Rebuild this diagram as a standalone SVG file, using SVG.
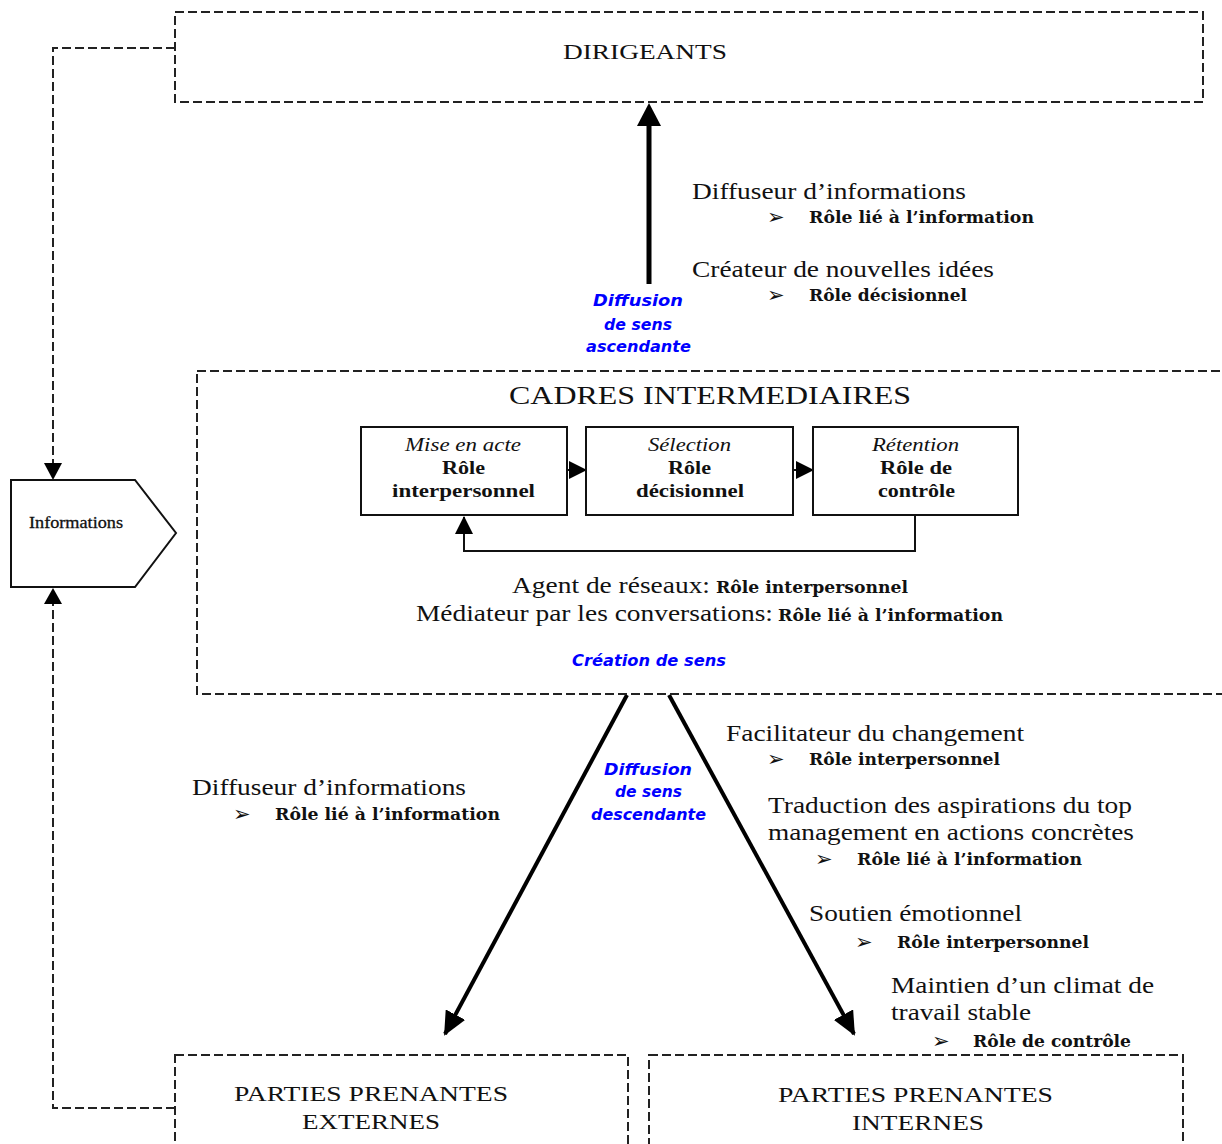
<svg xmlns="http://www.w3.org/2000/svg" width="1222" height="1144" viewBox="0 0 1222 1144">
  <defs>
    <style>
      .dash { fill: none; stroke: #222; stroke-width: 2; stroke-dasharray: 9 4; }
      .solid { fill: #fff; stroke: #111; stroke-width: 2; }
      .serif { font-family: "Liberation Serif", "Times New Roman", serif; fill: #111; }
      .big { font-size: 23px; }
      .cap { font-size: 22px; }
      .role { font-family: "DejaVu Serif", "Liberation Serif", serif; font-weight: bold; font-size: 16px; fill: #111; }
      .box { font-family: "Liberation Serif", serif; font-size: 19px; fill: #111; }
      .boxb { font-weight: bold; }
      .boxi { font-style: italic; }
      .blue { font-family: "DejaVu Sans", Verdana, sans-serif; font-weight: bold; font-style: italic; font-size: 15px; fill: #0000ff; }
      .bul { font-family: "DejaVu Sans", sans-serif; font-size: 21px; fill: #111; }
      .thick { stroke: #000; stroke-width: 5; fill: none; }
      .med { stroke: #000; stroke-width: 4; fill: none; }
      .thin { stroke: #111; stroke-width: 2; fill: none; }
    </style>
    <marker id="headBig" viewBox="0 0 24 22" refX="22" refY="11" markerWidth="24" markerHeight="22" markerUnits="userSpaceOnUse" orient="auto">
      <path d="M0,0 L24,11 L0,22 Z" fill="#000"/>
    </marker>
    <marker id="headSmall" viewBox="0 0 18 18" refX="17" refY="9" markerWidth="18" markerHeight="18" markerUnits="userSpaceOnUse" orient="auto">
      <path d="M0,0 L18,9 L0,18 Z" fill="#000"/>
    </marker>
  </defs>

  <rect width="1222" height="1144" fill="#fff"/>

  <!-- connectors -->
  <g id="connectors">
    <!-- dashed feedback loop around the Informations shape -->
    <polyline class="dash" points="175,48 53,48 53,464"/>
    <path d="M44,463 L62,463 L53,480 Z" fill="#000"/>
    <polyline class="dash" points="175,1108 53,1108 53,604"/>
    <path d="M44,604 L62,604 L53,588 Z" fill="#000"/>

    <!-- upward diffusion -->
    <line class="thick" x1="649" y1="284" x2="649" y2="120"/>
    <path d="M637,126 L661,126 L649,103 Z" fill="#000"/>

    <!-- downward diffusion -->
    <line class="med" x1="627" y1="695" x2="445" y2="1034" marker-end="url(#headBig)"/>
    <line class="med" x1="669" y1="695" x2="854" y2="1034" marker-end="url(#headBig)"/>

    <!-- links between the three inner roles -->
    <line class="thin" x1="567" y1="470" x2="586" y2="470" marker-end="url(#headSmall)"/>
    <line class="thin" x1="793" y1="470" x2="813" y2="470" marker-end="url(#headSmall)"/>
    <polyline class="thin" points="915,515 915,551 464,551 464,517" marker-end="url(#headSmall)"/>
  </g>

  <!-- top management -->
  <g id="dirigeants">
    <rect class="dash" x="175" y="12" width="1028" height="90"/>
    <text class="serif cap" x="563" y="59" textLength="164" lengthAdjust="spacingAndGlyphs">DIRIGEANTS</text>
  </g>

  <!-- information source -->
  <g id="informations">
    <polygon class="solid" points="11,480 135,480 176,533 135,587 11,587" stroke-width="1.6"/>
    <text class="serif" x="29" y="528" font-size="16" stroke="#111" stroke-width="0.3" textLength="94" lengthAdjust="spacingAndGlyphs">Informations</text>
  </g>

  <!-- roles in upward diffusion -->
  <g id="roles-ascendants">
    <text class="serif big" x="692" y="199" textLength="274" lengthAdjust="spacingAndGlyphs">Diffuseur d’informations</text>
    <text class="bul" x="767" y="224">➢</text>
    <text class="role" x="809" y="223" textLength="225" lengthAdjust="spacingAndGlyphs">Rôle lié à l’information</text>
    <text class="serif big" x="692" y="277" textLength="302" lengthAdjust="spacingAndGlyphs">Créateur de nouvelles idées</text>
    <text class="bul" x="767" y="302">➢</text>
    <text class="role" x="809" y="301" textLength="158" lengthAdjust="spacingAndGlyphs">Rôle décisionnel</text>
  </g>

  <g id="label-ascendante">
    <text class="blue" x="593" y="306" textLength="90" lengthAdjust="spacingAndGlyphs">Diffusion</text>
    <text class="blue" x="604" y="330" textLength="68" lengthAdjust="spacingAndGlyphs">de sens</text>
    <text class="blue" x="586" y="352" textLength="105" lengthAdjust="spacingAndGlyphs">ascendante</text>
  </g>

  <!-- middle management -->
  <g id="cadres">
    <rect class="dash" x="197" y="371" width="1100" height="323"/>
    <text class="serif" x="509" y="404" font-size="26" textLength="402" lengthAdjust="spacingAndGlyphs">CADRES INTERMEDIAIRES</text>

    <text class="serif big" x="512" y="593" textLength="198" lengthAdjust="spacingAndGlyphs">Agent de réseaux:</text>
    <text class="role" x="716" y="593" textLength="192" lengthAdjust="spacingAndGlyphs">Rôle interpersonnel</text>
    <text class="serif big" x="416" y="621" textLength="357" lengthAdjust="spacingAndGlyphs">Médiateur par les conversations:</text>
    <text class="role" x="778" y="621" textLength="225" lengthAdjust="spacingAndGlyphs">Rôle lié à l’information</text>

    <text class="blue" x="572" y="666" textLength="154" lengthAdjust="spacingAndGlyphs">Création de sens</text>
  </g>

  <g id="mise-en-acte">
    <rect class="solid" x="361" y="427" width="206" height="88"/>
    <text class="box boxi" x="405" y="451" textLength="116" lengthAdjust="spacingAndGlyphs">Mise en acte</text>
    <text class="box boxb" x="442" y="474" textLength="43" lengthAdjust="spacingAndGlyphs">Rôle</text>
    <text class="box boxb" x="392" y="497" textLength="143" lengthAdjust="spacingAndGlyphs">interpersonnel</text>
  </g>

  <g id="selection">
    <rect class="solid" x="586" y="427" width="207" height="88"/>
    <text class="box boxi" x="648" y="451" textLength="83" lengthAdjust="spacingAndGlyphs">Sélection</text>
    <text class="box boxb" x="668" y="474" textLength="43" lengthAdjust="spacingAndGlyphs">Rôle</text>
    <text class="box boxb" x="636" y="497" textLength="108" lengthAdjust="spacingAndGlyphs">décisionnel</text>
  </g>

  <g id="retention">
    <rect class="solid" x="813" y="427" width="205" height="88"/>
    <text class="box boxi" x="872" y="451" textLength="87" lengthAdjust="spacingAndGlyphs">Rétention</text>
    <text class="box boxb" x="880" y="474" textLength="72" lengthAdjust="spacingAndGlyphs">Rôle de</text>
    <text class="box boxb" x="878" y="497" textLength="77" lengthAdjust="spacingAndGlyphs">contrôle</text>
  </g>

  <!-- roles in downward diffusion -->
  <g id="roles-externes">
    <text class="serif big" x="192" y="795" textLength="274" lengthAdjust="spacingAndGlyphs">Diffuseur d’informations</text>
    <text class="bul" x="233" y="821">➢</text>
    <text class="role" x="275" y="820" textLength="225" lengthAdjust="spacingAndGlyphs">Rôle lié à l’information</text>
  </g>

  <g id="label-descendante">
    <text class="blue" x="604" y="775" textLength="88" lengthAdjust="spacingAndGlyphs">Diffusion</text>
    <text class="blue" x="615" y="797" textLength="67" lengthAdjust="spacingAndGlyphs">de sens</text>
    <text class="blue" x="591" y="820" textLength="115" lengthAdjust="spacingAndGlyphs">descendante</text>
  </g>

  <g id="roles-internes">
    <text class="serif big" x="726" y="741" textLength="298" lengthAdjust="spacingAndGlyphs">Facilitateur du changement</text>
    <text class="bul" x="767" y="766">➢</text>
    <text class="role" x="809" y="765" textLength="191" lengthAdjust="spacingAndGlyphs">Rôle interpersonnel</text>

    <text class="serif big" x="768" y="813" textLength="364" lengthAdjust="spacingAndGlyphs">Traduction des aspirations du top</text>
    <text class="serif big" x="768" y="840" textLength="366" lengthAdjust="spacingAndGlyphs">management en actions concrètes</text>
    <text class="bul" x="815" y="866">➢</text>
    <text class="role" x="857" y="865" textLength="225" lengthAdjust="spacingAndGlyphs">Rôle lié à l’information</text>

    <text class="serif big" x="809" y="921" textLength="213" lengthAdjust="spacingAndGlyphs">Soutien émotionnel</text>
    <text class="bul" x="855" y="949">➢</text>
    <text class="role" x="897" y="948" textLength="192" lengthAdjust="spacingAndGlyphs">Rôle interpersonnel</text>

    <text class="serif big" x="891" y="993" textLength="263" lengthAdjust="spacingAndGlyphs">Maintien d’un climat de</text>
    <text class="serif big" x="891" y="1020" textLength="140" lengthAdjust="spacingAndGlyphs">travail stable</text>
    <text class="bul" x="932" y="1048">➢</text>
    <text class="role" x="973" y="1047" textLength="158" lengthAdjust="spacingAndGlyphs">Rôle de contrôle</text>
  </g>

  <!-- stakeholders -->
  <g id="parties-externes">
    <rect class="dash" x="175" y="1055" width="453" height="110"/>
    <text class="serif cap" x="234" y="1101" textLength="274" lengthAdjust="spacingAndGlyphs">PARTIES PRENANTES</text>
    <text class="serif cap" x="302" y="1129" textLength="138" lengthAdjust="spacingAndGlyphs">EXTERNES</text>
  </g>

  <g id="parties-internes">
    <rect class="dash" x="649" y="1055" width="534" height="110"/>
    <text class="serif cap" x="778" y="1102" textLength="275" lengthAdjust="spacingAndGlyphs">PARTIES PRENANTES</text>
    <text class="serif cap" x="852" y="1130" textLength="132" lengthAdjust="spacingAndGlyphs">INTERNES</text>
  </g>
</svg>
